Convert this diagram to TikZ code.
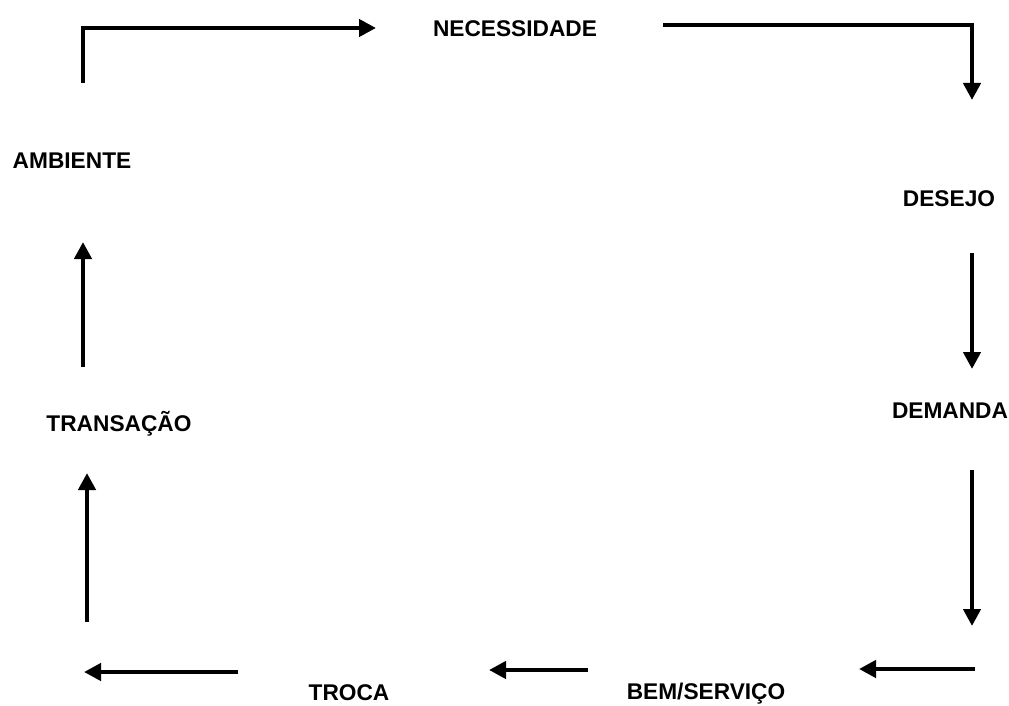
\documentclass[tikz,border=0pt]{standalone}
\usepackage{fontspec}
\setmainfont{Liberation Sans}
\usetikzlibrary{arrows.meta}
\begin{document}
\begin{tikzpicture}[x=1pt,y=-1pt,
  link/.style={line width=4.5pt},
  flow/.style={link,-{Triangle[length=17pt,width=17pt]}},
  term/.style={font=\fontsize{22.7}{27}\selectfont\bfseries,inner sep=0pt,anchor=base}]
  \fill[white] (0,0) rectangle (1009,706);
  \useasboundingbox (0,0) rectangle (1009,706);

  % stages of the cycle
  \node[term] (nec) at (515,37)  {NECESSIDADE};
  \node[term] (des) at (949,206) {DESEJO};
  \node[term] (dem) at (950,418) {DEMANDA};
  \node[term] (bem) at (706,699) {BEM/SERVIÇO};
  \node[term] (tro) at (349,700) {TROCA};
  \node[term] (tra) at (119,431) {TRANSAÇÃO};
  \node[term] (amb) at (72,168)  {AMBIENTE};

  % arrow end points
  \coordinate (a1s) at (83,83);   \coordinate (a1c) at (83,28);   \coordinate (a1e) at (376,28);
  \coordinate (a2s) at (663,25);  \coordinate (a2c) at (972,25);  \coordinate (a2e) at (972,100);
  \coordinate (a3s) at (972,253); \coordinate (a3e) at (972,369);
  \coordinate (a4s) at (972,470); \coordinate (a4e) at (972,626);
  \coordinate (a5s) at (975,669); \coordinate (a5e) at (859,669);
  \coordinate (a6s) at (588,670); \coordinate (a6e) at (489,670);
  \coordinate (a7s) at (238,672); \coordinate (a7e) at (84,672);
  \coordinate (a8s) at (87,622);  \coordinate (a8e) at (87,473);
  \coordinate (a9s) at (83,367);  \coordinate (a9e) at (83,242);

  % connectors
  \draw[flow] (a1s) -- (a1c) -- (a1e);
  \draw[flow] (a2s) -- (a2c) -- (a2e);
  \draw[flow] (a3s) -- (a3e);
  \draw[flow] (a4s) -- (a4e);
  \draw[flow] (a5s) -- (a5e);
  \draw[flow] (a6s) -- (a6e);
  \draw[flow] (a7s) -- (a7e);
  \draw[flow] (a8s) -- (a8e);
  \draw[flow] (a9s) -- (a9e);
\end{tikzpicture}
\end{document}
